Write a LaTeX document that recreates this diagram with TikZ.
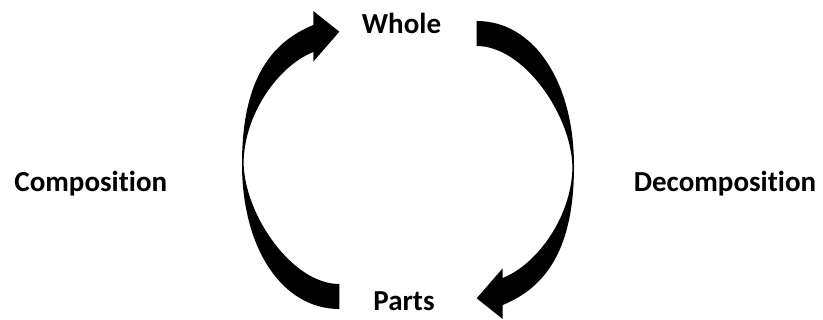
\documentclass[tikz,border=0pt]{standalone}
\usepackage{fontspec}
\setmainfont[Ligatures=CommonOff]{Carlito}
\newcommand{\myCurvedArrowPath}{%
  (339.3,309) .. controls (282,309) and (242,248) .. (242,164)
  .. controls (242,84) and (268,43.5) .. (313.3,25)
  -- (313.3,11) -- (339.3,31.7) -- (313.3,61.7) -- (313.3,52)
  .. controls (278,66) and (243.5,115) .. (243.6,164)
  .. controls (245,215) and (292,284) .. (339.3,284)
  -- cycle}
\begin{document}
\begin{tikzpicture}[x=1pt,y=-1pt,
  lbl/.style={font=\bfseries\fontsize{29}{35}\selectfont, inner sep=0pt, anchor=base},
  arrowfill/.style={fill=black}]
\useasboundingbox (0,0) rectangle (823,320);
% left (composition) arrow: tail at bottom, head at top
\fill[arrowfill] \myCurvedArrowPath;
% right (decomposition) arrow: same shape turned half round
\begin{scope}[rotate around={180:(408,165)}]
  \fill[arrowfill] \myCurvedArrowPath;
\end{scope}
\node[lbl] (whole) at (401.5,33.3) {Whole};
\node[lbl] (parts) at (404,310.7) {Parts};
\node[lbl] (comp) at (90.8,192) {Composition};
\node[lbl] (decomp) at (725,192) {Decomposition};
\end{tikzpicture}
\end{document}
